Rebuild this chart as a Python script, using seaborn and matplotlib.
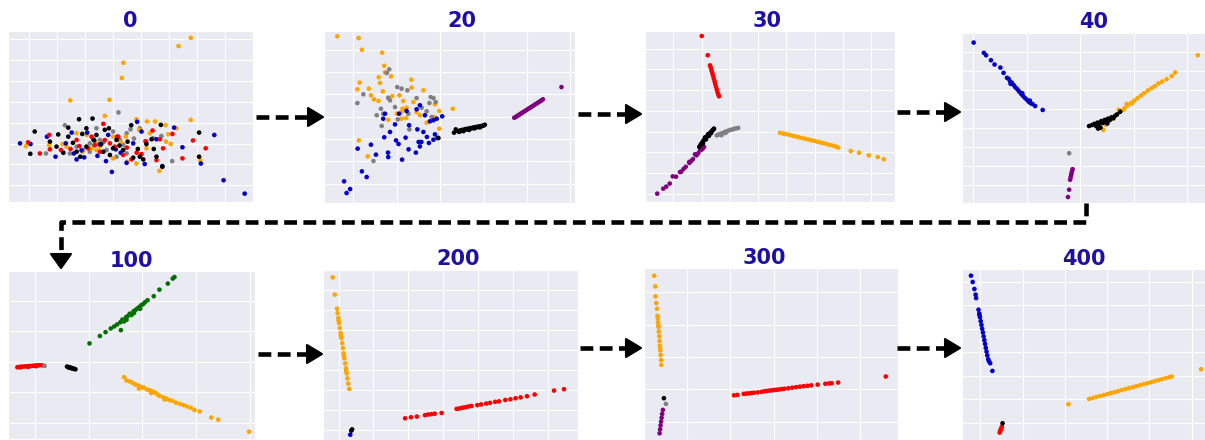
import numpy as np
import pandas as pd
import matplotlib
matplotlib.use('Agg')
import matplotlib.pyplot as plt
import seaborn as sns
from matplotlib.lines import Line2D
from matplotlib.patches import Polygon

# ---- data: 2-D embedding snapshots (arbitrary units, 0-100) per epoch ----
ep0_black = [(10.9, 41.2), (9.1, 28.2), (29, 48.4), (34.5, 48.8), (19.8, 32.4), (24.6, 38.2), (30.3, 39.8),
             (28, 29.4), (39.5, 42.2), (41.2, 43.1), (44.3, 36.3), (50.3, 44.9), (48.8, 35.3), (53.8, 26.5),
             (55.2, 24.9), (58.6, 36.7), (59.5, 31), (62.4, 45.1), (63, 20.6), (78, 40.6), (78, 26.5),
             (17.1, 35.3), (22.6, 28.8), (32, 32.4), (36.1, 39.2), (38.9, 29.4), (42.9, 31.4), (51.1, 25.9),
             (56.5, 33.9), (32, 43.1), (24.6, 43.5), (47, 30.4), (41.6, 27.5), (60.6, 26.5), (26.5, 34.6),
             (35.2, 36.0), (38.0, 33.8), (45.5, 33.0), (53.0, 31.0), (29.5, 26.5), (20.5, 39.5)]
ep0_red = [(8.2, 34.9), (13, 28.4), (16.8, 39.2), (17.1, 30.8), (21.6, 30.4), (29.1, 32.7), (34.1, 38.2),
           (35.5, 33.3), (38.9, 45.7), (41.6, 34.3), (43.6, 32.4), (47, 27.5), (50.4, 24.9), (52.5, 28.8),
           (59, 41.8), (60.6, 24.5), (63.3, 31.4), (67.1, 39.8), (71.2, 25.5), (75.5, 36), (80.7, 31.4),
           (32.7, 31.4), (28, 36.3), (37.5, 29.4), (45, 38.2), (56.1, 35.5), (62, 36.7), (25.5, 31.0),
           (39.5, 36.2), (48.5, 31.8), (54.5, 28.0)]
ep0_blue = [(4.9, 34.3), (15.9, 38.2), (19.4, 26.5), (23.6, 34.3), (26.9, 28.4), (28, 24.9), (31.1, 26.1),
            (32.3, 40.6), (37.5, 33.7), (40, 23.9), (42.4, 17.6), (44.6, 38.2), (46, 28.8), (48.4, 22.9),
            (52.7, 46.9), (54.5, 41.2), (55.8, 22.2), (60.6, 36.7), (63, 21), (67.8, 43.5), (71.2, 32),
            (78.7, 22.5), (84.2, 39.2), (88, 12.7), (96.6, 4.9), (9.2, 33.9), (26, 40.6), (34.8, 36.7),
            (51.1, 34.3), (40.9, 39.2), (30.0, 30.2), (44.0, 30.8), (36.5, 27.0)]
ep0_orange = [(74.6, 96), (69.6, 91.2), (47.1, 81.4), (46.5, 72.5), (25.4, 59.4), (41.4, 59.8), (74.6, 48),
              (7.3, 32.7), (16.8, 33.3), (22.3, 33.9), (28, 40.2), (30.4, 29.4), (34.1, 31.4), (36.1, 30.4),
              (39.5, 50.4), (42.9, 25.5), (48.1, 38.2), (52.4, 48.4), (53.5, 42.2), (56.7, 47.1), (57.9, 40.2),
              (60, 47.1), (64.3, 44.9), (64.5, 35.3), (65.4, 39.6), (66.4, 33.9), (68.8, 43.1), (61.8, 18.2),
              (78.5, 24.5), (52.4, 22.5), (56.5, 31.4), (42.9, 38.2), (37.5, 32.4), (32.1, 39.2), (23.9, 32.4),
              (48.6, 23.5), (36.8, 34.5), (46.0, 35.0)]
ep0_gray = [(45.1, 52.4), (15.5, 28.4), (23.2, 44.9), (33.4, 34.3), (36.1, 43.1), (37.5, 36.3), (42.9, 41.2),
            (45.7, 36.3), (48.4, 40.2), (50, 42.5), (51.4, 37.1), (56.5, 35.3), (59.2, 37.3), (62.6, 38.6),
            (67, 23.9), (30.7, 30.4), (28, 32.4), (25.3, 28.4), (40.2, 30.4), (44.3, 26.5), (48.4, 28.4),
            (53.8, 43.1), (33.4, 29.4), (35.0, 33.0), (39.0, 35.0), (47.0, 33.5)]

ep20_orange = [(5.3, 96.9), (13.8, 95.9), (15.1, 89.1), (23.2, 87.4), (24, 79.8), (24.3, 76), (21.8, 73.1),
               (26.7, 73.6), (14.2, 70), (13.3, 66.1), (17.9, 66.5), (23.4, 64.9), (22.3, 69.8), (18.7, 62.6),
               (19.9, 60.3), (21.7, 59.3), (27.2, 62.2), (25.8, 60.7), (30, 62.6), (34.8, 71.7), (34.9, 67.1),
               (39.6, 65.5), (31.6, 59.3), (31.3, 54.8), (32.9, 55.4), (30.9, 52.9), (35.6, 58.7), (36.9, 52.9),
               (38.2, 51), (30.9, 49), (32.7, 49.4), (29, 52), (25.6, 48.4), (44.2, 57.4), (45.9, 53.5),
               (43.9, 50), (40.9, 46.7), (45.9, 43.2), (51.3, 54.8), (13.9, 36.4), (17.4, 27.1)]
ep20_gray = [(26, 77.7), (25, 75.6), (29.2, 67.4), (30.9, 66.5), (33.2, 65.5), (15.7, 63.2), (13.3, 58.1),
             (25.6, 61.2), (26.3, 59.7), (36.9, 61), (38.9, 55.4), (42, 58.1), (43.6, 61), (44.5, 58.7),
             (42.5, 61.6), (40.9, 53.3), (42.9, 50), (22.7, 54.8), (21, 51), (23.6, 51.9), (23, 44.8),
             (29.4, 48.6), (34, 42.8), (19.7, 24.4), (28.3, 55.8), (33.6, 51.9)]
ep20_blue = [(8, 12.6), (9, 5.8), (10.4, 8.1), (15.1, 18.4), (17, 15.1), (13.4, 31.6), (18.7, 33.9),
             (20.7, 28.1), (24, 38.2), (25.6, 26.7), (25.5, 29.3), (26.3, 41.3), (31.1, 25.2), (28.7, 36.4),
             (29.7, 34.3), (32.5, 38), (33.7, 31.2), (36.6, 29.3), (37.7, 35.5), (38.8, 35.5), (38.2, 32.9),
             (41, 38.4), (41.8, 34.9), (44.2, 39.9), (45.2, 37.8), (43.6, 36.8), (39.6, 41.3), (37.2, 42.8),
             (33.9, 45.2), (28.3, 45.7), (23.6, 49), (24.3, 51.9), (29.9, 51.9), (32.9, 53.5), (36.9, 54.5),
             (40.2, 51), (43.6, 48.1), (47.1, 50.4), (44.9, 49), (38.2, 56.8), (42.2, 47.5)]
ep20_black = [(45.6, 37.8), (51.8, 40.9), (52.5, 42.8), (53.5, 41.6), (54.2, 42.2), (54.8, 42), (55.3, 42.6),
              (55.9, 42.4), (56.4, 43), (57, 42.8), (57.5, 43.3), (58.1, 43.1), (58.6, 43.6), (59.2, 43.5),
              (59.7, 44), (60.3, 43.8), (60.8, 44.3), (61.4, 44.1), (61.9, 44.6), (62.5, 44.5), (63, 44.9),
              (63.6, 45), (64.1, 45.5), (55.6, 41.8), (57.8, 42.5), (60, 43.4), (62.2, 44), (54, 41.4)]
ep20_purple = [(75.8, 49.6), (76.4, 50), (77, 50.7), (77.6, 51.1), (78.2, 51.8), (78.8, 52.3), (79.4, 52.9),
               (80, 53.4), (80.6, 54), (81.2, 54.6), (81.8, 55.1), (82.4, 55.7), (83, 56.2), (83.6, 56.8),
               (84.2, 57.4), (84.8, 57.9), (85.4, 58.5), (86, 59.1), (86.6, 59.6), (87.2, 60.3), (94.6, 67.4)]

ep30_red = [(22.7, 97.1), (25.1, 85.8), (26, 79.9), (26.3, 78.6), (26.6, 77), (26.9, 75.4), (27.2, 73.9),
            (27.5, 72.3), (27.8, 70.6), (28.1, 69), (28.4, 67.4), (28.7, 65.8), (29, 64.2), (29.3, 62.9),
            (29.6, 61.8)]
ep30_purple = [(4.9, 4.9), (7.3, 7.8), (8.5, 9), (9.9, 10.8), (11.1, 15), (12.4, 14.8), (14, 17.5),
               (14.5, 17.7), (15.4, 19.3), (16.3, 20.6), (17.7, 23.4), (17.8, 22.9), (18.5, 24), (19.2, 25.1),
               (20, 27.9), (20.6, 27.3), (21.3, 28.5), (22, 30.2), (22.6, 30.6), (23.2, 31.4), (23.6, 32.2)]
ep30_black = [(21.7, 32.2), (22.2, 33.4), (22.6, 34.2), (23, 35), (23.4, 35.9), (23.8, 36.5), (24.2, 37.3),
              (24.6, 38), (25, 38.6), (25.4, 39.3), (25.8, 40), (26.2, 40.6), (26.6, 41.2), (27, 41.9),
              (27.4, 42.5), (27.6, 42.9), (23.2, 34.3), (24.4, 36.6), (25.6, 38.7), (26.4, 40.2), (24, 37.8),
              (25.2, 39.6)]
ep30_gray = [(28.7, 39), (29.4, 39.4), (30.2, 39.8), (31, 40.3), (31.8, 40.9), (32.6, 41.3), (33.4, 41.8),
             (34.2, 42.2), (35, 42.4), (35.8, 42.9), (36.6, 43.1), (37.3, 43.3), (30.6, 39.1), (32.2, 40.4)]
ep30_orange = [(54, 40.4), (55.3, 40), (56.5, 39.6), (57.8, 39.3), (59, 38.7), (60.3, 38.3), (61.5, 37.9),
               (62.8, 37.4), (64, 37), (65.3, 36.6), (66.5, 36.1), (67.8, 35.7), (69, 35.2), (70.3, 34.8),
               (71.5, 34.3), (72.8, 33.9), (74, 33.3), (75.3, 32.9), (76.5, 32.3), (77.3, 31.8), (82.3, 29.8),
               (85.6, 28.8), (89.5, 27.3), (93.1, 26.3), (95.5, 25)]

ep40_blue = [(4.8, 93.8), (9, 87.8), (9.9, 86.4), (11.9, 83.5), (13.4, 81), (15.8, 79.2), (17.1, 76.1),
             (18.5, 73.2), (19.2, 72.6), (19.8, 71.1), (20.5, 70.3), (21.3, 68.9), (22, 67.6), (22.8, 66.5),
             (23.5, 65.2), (24.3, 63.9), (25, 62.8), (25.8, 61.6), (26.6, 60.5), (27.4, 59.3), (28.2, 58.4),
             (29, 57.9), (30.1, 56.7), (33.2, 54.4), (20, 69.7), (24.8, 64.2), (27.9, 59.9)]
ep40_orange = [(97, 86.4), (87.7, 76.3), (86.3, 74.2), (84.2, 72.4), (82.4, 71), (80.8, 69.9), (79.3, 68.3),
               (78, 67.1), (76.5, 65.8), (75, 64.3), (73.6, 62.8), (72.2, 61.3), (70.9, 59.9), (69.6, 58.5),
               (68.3, 57.2), (67, 55.6), (66.4, 54.4), (65, 53.3), (63.7, 51.6), (62.4, 50.2), (61.2, 48.8),
               (60, 47.3), (59.1, 45.8), (58.2, 42.7), (67.8, 57.9), (70, 58.3), (64.5, 54.5)]
ep40_black = [(52.3, 45), (53.5, 45.6), (54.5, 46.3), (55.2, 45), (55.8, 47), (56.6, 46.2), (57.3, 47.9),
              (58, 46.8), (58.7, 48.6), (59.4, 47.6), (60.1, 49.3), (60.8, 48.5), (61.5, 50.1), (62.3, 49.5),
              (63, 51), (63.8, 51.8), (65.1, 53.4), (57, 44), (56, 43.5), (59.8, 46.5)]
ep40_gray = [(44.1, 29.1)]
ep40_purple = [(43.6, 3.5), (44.1, 7.8), (44.5, 13.6), (44.7, 15), (44.9, 16.4), (45.1, 17.6), (45.3, 18.8),
               (45.5, 19.8)]

ep100_green = [(33, 56.9), (37.2, 61.3), (39.5, 63.6), (41.6, 65.8), (45.7, 64.8), (43, 67), (44.2, 68.2),
               (45.5, 69.5), (46.3, 71.1), (47, 70), (47.8, 72.5), (48.5, 73.2), (49.3, 74.6), (50, 73.8),
               (50.8, 76), (51.6, 76.8), (52.4, 77.7), (53.2, 78.6), (54, 79.7), (54.8, 80.4), (55.5, 81.5),
               (56.5, 82.6), (59, 85), (61.3, 88.9), (64.7, 92.5), (66.7, 95.5), (67.4, 96.4), (48, 71),
               (51, 75), (53.5, 77.5)]
ep100_red = [(3.8, 42.7), (4.6, 42.9), (5.4, 43), (6.2, 43.1), (7, 43.2), (7.8, 43.3), (8.6, 43.4),
             (9.4, 43.5), (10.2, 43.6), (11, 43.7), (11.8, 43.8), (12.6, 43.9), (13.7, 43.9), (5, 42.6),
             (8.2, 42.9), (11.4, 43.3)]
ep100_gray = [(14.8, 43.5)]
ep100_black = [(23.9, 43.1), (24.5, 42.8), (25.1, 42.6), (25.7, 42.3), (26.3, 42), (26.9, 41.7), (27.3, 41.5),
               (24.8, 42.4), (26, 41.9)]
ep100_orange = [(47, 36.8), (48, 34.8), (49.3, 34.3), (50.5, 33.4), (51.5, 32.4), (52.8, 31.8), (54, 30.8),
                (55, 30.6), (56.2, 29.5), (57.3, 29), (58.5, 28.4), (59.6, 27.6), (60.5, 26.5), (61.3, 25.7),
                (62.8, 24.8), (64, 24.1), (65.3, 23.2), (66.6, 22.7), (68, 21.6), (69.5, 20.9), (71, 20.2),
                (72.5, 19.3), (74, 18.5), (75.5, 17.2), (77.6, 16.4), (82.3, 12.8), (85.1, 11.5), (97.6, 4.3),
                (53, 30), (58, 27.3), (63.5, 23.5)]

ep200_orange = [(3.8, 95.1), (4.6, 85), (5.5, 76.8), (5.7, 74.2), (6, 71.4), (6.3, 68.4), (6.6, 65.5),
                (6.9, 62.5), (7.2, 59.6), (7.5, 56.6), (7.8, 53.7), (8.1, 50.7), (8.4, 47.8), (8.7, 44.8),
                (9, 41.9), (9.3, 38.9), (9.6, 36), (9.9, 33), (10.3, 29.9), (6.1, 69.9), (7, 61), (8.2, 49.2),
                (9.1, 40.3)]
ep200_black = [(11.1, 5.5), (11.4, 6.2)]
ep200_blue = [(10.7, 3.1)]
ep200_red = [(32.2, 12.7), (34.5, 13.3), (36.8, 13.7), (40, 14.5), (41.2, 14.9), (42.5, 15.1), (43.8, 15.4),
             (46.5, 15.8), (52.4, 18.2), (53.3, 18.4), (54.2, 18.7), (55.1, 19), (56, 19.2), (57, 19.6),
             (58.2, 19.9), (60.5, 20.4), (62, 20.8), (64, 21.3), (65.5, 21.7), (67.5, 22.3), (69, 22.6),
             (71.5, 23.4), (73.5, 23.8), (75.5, 24.4), (77.5, 24.9), (80, 25.6), (83, 26.6), (90.6, 28.9),
             (94.5, 29.7)]

ep300_orange = [(4.4, 95.5), (4.8, 89.3), (4.9, 83.5), (5.2, 79.6), (5.5, 76.3), (5.7, 72.2), (5.8, 70.8),
                (5.9, 68.5), (6.1, 65.8), (6.2, 63.1), (6.4, 60.3), (6.5, 57.6), (6.6, 54.8), (6.8, 52),
                (6.9, 49.3), (7.1, 46.5), (7.2, 43.7), (6, 66.5), (6.7, 53.6)]
ep300_black = [(8.2, 24.3)]
ep300_gray = [(9, 21)]
ep300_purple = [(6.5, 3.9), (6.7, 6.2), (6.9, 8.5), (7.1, 10.7), (7.3, 12.9), (7.5, 15.1), (7.8, 17.5)]
ep300_red = [(35.7, 26), (37, 26.2), (39.5, 26.8), (40.5, 27), (41.5, 27.1), (42.5, 27.3), (43.5, 27.5),
             (45, 27.7), (46.5, 28), (47.5, 28.3), (48.5, 28.5), (49.5, 28.7), (50.5, 28.9), (51.5, 29.1),
             (52.5, 29.2), (53.5, 29.4), (54.5, 29.6), (55.5, 29.8), (57, 30.1), (58.5, 30.4), (60, 30.7),
             (61.5, 31), (63, 31.3), (64.5, 31.5), (66, 31.8), (68.5, 32.2), (71.5, 32.7), (73, 32.9),
             (74, 33), (76.5, 33.4), (95.2, 36.9)]

ep400_blue = [(3.7, 96.1), (4.4, 92.4), (5.1, 88.3), (5.8, 83), (6.8, 76.2), (7.1, 74), (7.4, 71.8),
              (7.7, 69.5), (8, 67.3), (8.3, 65.1), (8.6, 62.9), (8.9, 60.6), (9.2, 58.4), (9.5, 56.2),
              (9.8, 53.9), (10.1, 51.7), (10.4, 49.5), (10.8, 47.2), (11.1, 46), (11.6, 44.9), (12.5, 40.4),
              (5.6, 85), (7.2, 73)]
ep400_black = [(16.7, 9.8)]
ep400_red = [(15.5, 4.3), (15.7, 5.1), (15.9, 5.9), (16.1, 6.7), (16.4, 7.8)]
ep400_orange = [(43.8, 20.9), (52.3, 24), (53.8, 24.6), (55.3, 25.2), (56.8, 25.7), (58.3, 26.3), (59.8, 26.9),
                (61.3, 27.5), (62.8, 28), (64.3, 28.6), (65.8, 29.2), (67.3, 29.8), (68.8, 30.4), (70.3, 30.9),
                (71.8, 31.5), (73.3, 32.1), (74.8, 32.7), (76.3, 33.2), (77.8, 33.8), (79.3, 34.4), (80.8, 35),
                (82.3, 35.6), (83.8, 36.1), (85.3, 36.7), (86.3, 37.1), (98.4, 41.4)]

epochs = ['0', '20', '30', '40', '100', '200', '300', '400']
clusters = {
    '0': {'gray': ep0_gray, 'orange': ep0_orange, 'blue': ep0_blue, 'red': ep0_red, 'black': ep0_black},
    '20': {'orange': ep20_orange, 'gray': ep20_gray, 'blue': ep20_blue, 'black': ep20_black, 'purple': ep20_purple},
    '30': {'red': ep30_red, 'purple': ep30_purple, 'gray': ep30_gray, 'black': ep30_black, 'orange': ep30_orange},
    '40': {'blue': ep40_blue, 'orange': ep40_orange, 'black': ep40_black, 'gray': ep40_gray, 'purple': ep40_purple},
    '100': {'green': ep100_green, 'red': ep100_red, 'gray': ep100_gray, 'black': ep100_black, 'orange': ep100_orange},
    '200': {'orange': ep200_orange, 'blue': ep200_blue, 'black': ep200_black, 'red': ep200_red},
    '300': {'orange': ep300_orange, 'purple': ep300_purple, 'black': ep300_black, 'gray': ep300_gray, 'red': ep300_red},
    '400': {'blue': ep400_blue, 'red': ep400_red, 'black': ep400_black, 'orange': ep400_orange},
}

rows = []
for ep in epochs:
    for cls, pts in clusters[ep].items():
        for x, y in pts:
            rows.append({'epoch': ep, 'cls': cls, 'x': x, 'y': y})
df = pd.DataFrame(rows)

palette = {'black': 'black', 'red': '#ff0000', 'blue': '#0000c8', 'orange': '#ffa500',
           'gray': '#808080', 'purple': '#800080', 'green': '#007000'}

# ---- layout (pixels in a 1205x440 canvas) ----
W, H = 1205, 440
# left, top, right, bottom, title x (axes fraction), grid x0, dx, y0, dy
layout = {
    '0':   (8, 31, 253, 202, 0.50, 8.6, 11.4, 9.8, 12.2),
    '20':  (324, 31, 575, 203, 0.55, 11.7, 17.3, 11.2, 13.0),
    '30':  (645, 31, 895, 202, 0.49, 11.3, 11.3, 4.9, 12.1),
    '40':  (962, 32, 1205, 203, 0.54, 4.7, 22.0, 10.7, 11.1),
    '100': (8, 271, 255, 439, 0.50, 11.0, 21.7, 9.5, 18.2),
    '200': (323, 269, 578, 440, 0.53, 6.1, 13.7, 5.9, 11.7),
    '300': (643, 268, 898, 440, 0.475, 0.2, 17.0, 10.7, 18.8),
    '400': (962, 269, 1205, 440, 0.50, 7.5, 17.4, 10.2, 13.7),
}

sns.set_style('darkgrid')
plt.rcParams['font.family'] = ['DejaVu Sans']
fig = plt.figure(figsize=(12.05, 4.4), dpi=100)

for ep in epochs:
    l, t, r, b, tx, gx0, gdx, gy0, gdy = layout[ep]
    ax = fig.add_axes([l / W, 1 - b / H, (r - l) / W, (b - t) / H])
    sub = df[df['epoch'] == ep]
    sns.scatterplot(data=sub, x='x', y='y', hue='cls', palette=palette, s=11,
                    linewidth=0, legend=False, ax=ax)
    ax.set_xlim(0, 100)
    ax.set_ylim(0, 100)
    ax.set_xticks(np.arange(gx0, 100, gdx))
    ax.set_yticks(np.arange(gy0, 100, gdy))
    ax.set_xticklabels([])
    ax.set_yticklabels([])
    ax.tick_params(length=0)
    ax.set_xlabel('')
    ax.set_ylabel('')
    ax.set_title(ep, x=tx, fontsize=15, fontweight='bold', color='#1e10a6', pad=3)


def fig_xy(px, py):
    return px / W, 1 - py / H


def dashed_arrow(path, head_len=15, head_w=18):
    # path: list of pixel points, last one is the arrow tip
    *body, tip = path
    last = body[-1]
    vx, vy = tip[0] - last[0], tip[1] - last[1]
    n = np.hypot(vx, vy)
    ux, uy = vx / n, vy / n
    base = (tip[0] - ux * head_len, tip[1] - uy * head_len)
    pts = body + [base]
    xs, ys = zip(*[fig_xy(*p) for p in pts])
    fig.add_artist(Line2D(xs, ys, transform=fig.transFigure, color='black', lw=3.3,
                          linestyle=(0, (2.8, 1.4)), dash_capstyle='butt',
                          dash_joinstyle='round'))
    px_, py_ = -uy, ux
    tri = [tip,
           (base[0] + px_ * head_w / 2, base[1] + py_ * head_w / 2),
           (base[0] - px_ * head_w / 2, base[1] - py_ * head_w / 2)]
    fig.add_artist(Polygon([fig_xy(*p) for p in tri], closed=True, transform=fig.transFigure,
                           facecolor='black', edgecolor='black', lw=1.5, joinstyle='round'))


dashed_arrow([(256, 117), (323, 117)])
dashed_arrow([(578, 114), (641, 114)])
dashed_arrow([(897, 112), (960, 112)])
dashed_arrow([(258, 354), (322, 354)])
dashed_arrow([(580, 348), (641, 348)])
dashed_arrow([(897, 348), (960, 348)])
dashed_arrow([(1086, 203), (1086, 222), (61, 222), (61, 268)], head_len=14, head_w=20)

fig.savefig('out.png', dpi=100)
